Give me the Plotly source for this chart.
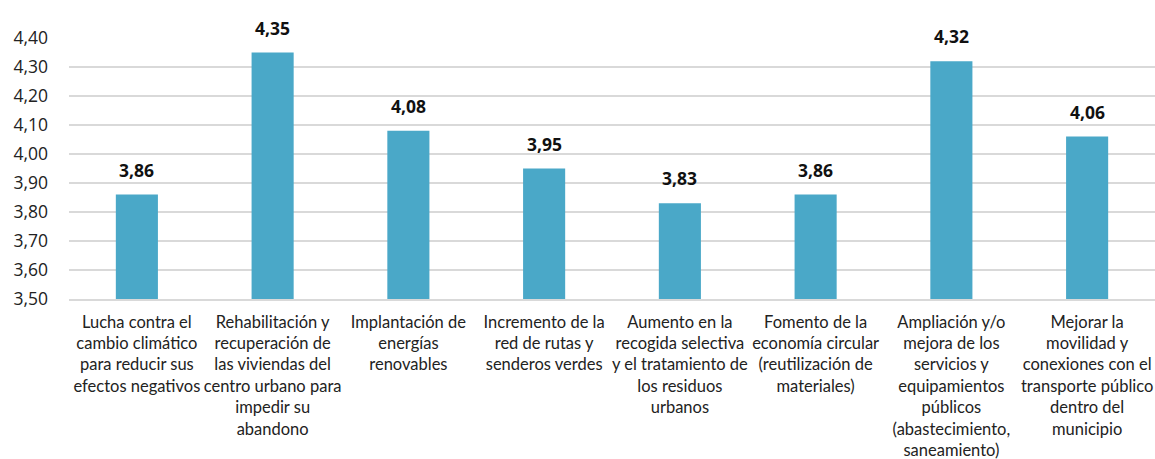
import plotly.graph_objects as go

categories = [
    "Lucha contra el<br>cambio climático<br>para reducir sus<br>efectos negativos",
    "Rehabilitación y<br>recuperación de<br>las viviendas del<br>centro urbano para<br>impedir su<br>abandono",
    "Implantación de<br>energías<br>renovables",
    "Incremento de la<br>red de rutas y<br>senderos verdes",
    "Aumento en la<br>recogida selectiva<br>y el tratamiento de<br>los residuos<br>urbanos",
    "Fomento de la<br>economía circular<br>(reutilización de<br>materiales)",
    "Ampliación y/o<br>mejora de los<br>servicios y<br>equipamientos<br>públicos<br>(abastecimiento,<br>saneamiento)",
    "Mejorar la<br>movilidad y<br>conexiones con el<br>transporte público<br>dentro del<br>municipio",
]
values = [3.86, 4.35, 4.08, 3.95, 3.83, 3.86, 4.32, 4.06]
y_ticks = [3.5, 3.6, 3.7, 3.8, 3.9, 4.0, 4.1, 4.2, 4.3, 4.4]
y_base = 3.5

num_font = "Open Sans, Noto Sans, sans-serif"
label_font = "Lato, Open Sans, sans-serif"

fig = go.Figure()
fig.add_trace(go.Bar(
    x=categories, y=[v - y_base for v in values], base=y_base,
    marker=dict(color="#4aa8c8", line=dict(width=0)),
    width=0.31,
))

# value labels above each bar
for c, v in zip(categories, values):
    fig.add_annotation(
        x=c, y=v, text="<b>" + f"{v:.2f}".replace(".", ",") + "</b>",
        showarrow=False, yanchor="bottom", yshift=11,
        font=dict(size=17.5, color="#111111", family=num_font),
    )

fig.update_layout(
    width=1155, height=459,
    margin=dict(l=69, r=0, t=38, b=160),
    plot_bgcolor="white", paper_bgcolor="white",
    separators=",.",
    showlegend=False,
    font=dict(family=num_font, color="#222222"),
)
fig.update_yaxes(
    range=[3.5, 4.4], tickvals=y_ticks, tickformat=".2f",
    showgrid=True, gridcolor="#d9d9d9", gridwidth=1.5,
    zeroline=False, showline=False, automargin=False,
    tickfont=dict(size=17.5, color="#222222", family=num_font),
    ticklabelstandoff=20,
)
fig.update_xaxes(
    showline=True, linecolor="#d9d9d9", linewidth=1.5, automargin=False,
    tickfont=dict(size=16.5, color="#222222", family=label_font),
    ticklabelstandoff=7, tickangle=0,
)

# drop the default page margin so the figure fills the window without scrollbars
fig.write_html(
    "out.html",
    config={"displayModeBar": False},
    post_script="document.body.style.margin='0';document.body.style.overflow='hidden';",
)
